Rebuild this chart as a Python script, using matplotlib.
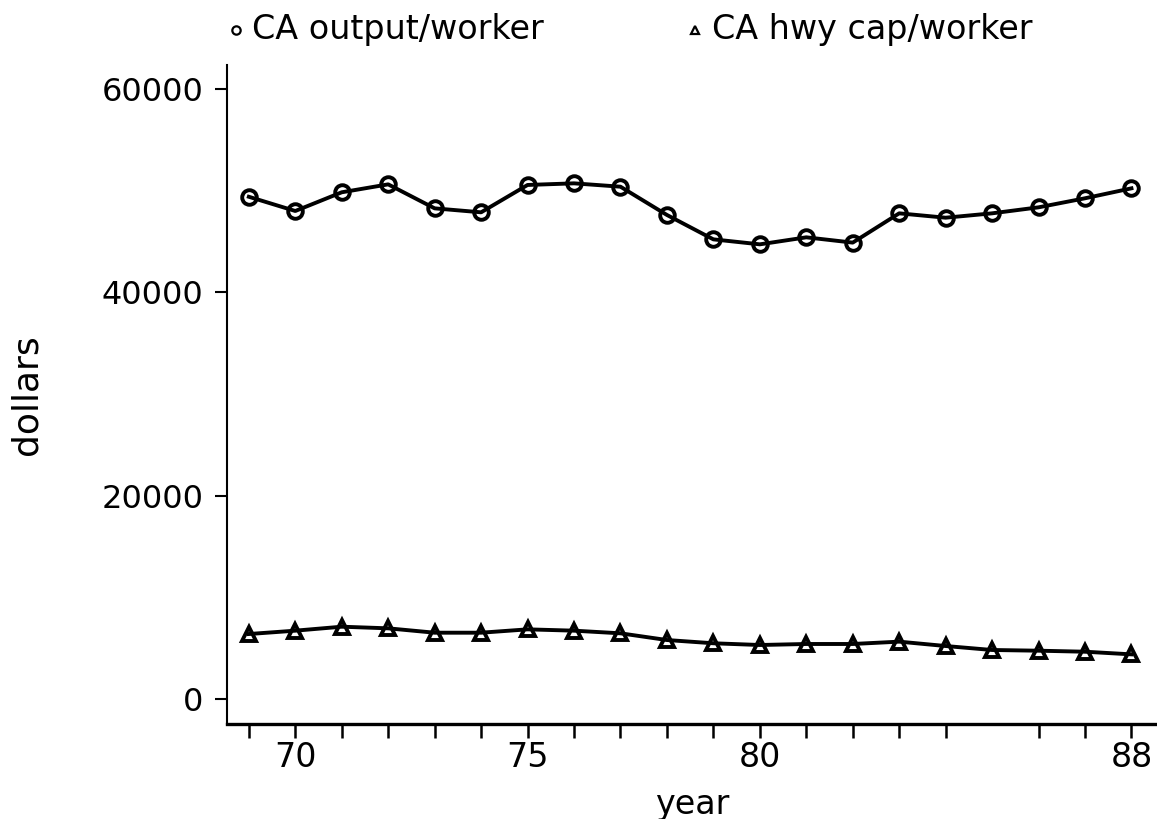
import matplotlib
matplotlib.use("Agg")
import matplotlib.pyplot as plt
from matplotlib.lines import Line2D

years = list(range(1969, 1989))
output_per_worker = [49400, 48000, 49840, 50620, 48260, 47870, 50560, 50720, 50390, 47610,
                     45210, 44720, 45410, 44890, 47770, 47340, 47770, 48360, 49250, 50230]
hwy_cap_per_worker = [6390, 6720, 7110, 6950, 6520, 6520, 6850, 6720, 6460, 5800,
                      5480, 5310, 5410, 5410, 5640, 5210, 4820, 4750, 4650, 4390]
x_ticks = [1969, 1970, 1971, 1972, 1973, 1974, 1975, 1976, 1977, 1978, 1979, 1980,
           1981, 1982, 1983, 1984, 1986, 1987, 1988]
x_tick_labels = ["", "70", "", "", "", "", "75", "", "", "", "", "80",
                 "", "", "", "", "", "", "88"]
y_ticks = [0, 20000, 40000, 60000]
series_labels = ["CA output/worker", "CA hwy cap/worker"]
series_markers = ['o', '^']

plt.rcParams['font.family'] = ['DejaVu Sans']

W, H = 1157, 819
fig = plt.figure(figsize=(W/100, H/100), dpi=100)
ax = fig.add_axes([227/W, 1 - 724/H, 1 - 227/W, (724 - 65)/H])

ax.plot(years, output_per_worker, color='black', lw=2.8, marker=series_markers[0], ms=10.5,
        mfc='none', mec='black', mew=2.8)
ax.plot(years, hwy_cap_per_worker, color='black', lw=2.8, marker=series_markers[1], ms=9.5,
        mfc='none', mec='black', mew=2.8)

ax.set_xlim(1968.53, 1988.55)
ax.set_ylim(-2460, 62360)
ax.spines['top'].set_visible(False)
ax.spines['right'].set_visible(False)
ax.spines['left'].set_linewidth(1.5)
ax.spines['bottom'].set_linewidth(2.4)

ax.set_xticks(x_ticks)
ax.set_xticklabels(x_tick_labels)
ax.set_yticks(y_ticks)
ax.set_yticklabels([str(v) for v in y_ticks])
ax.tick_params(axis='x', length=10, width=1.8, pad=2, labelsize=24)
ax.tick_params(axis='y', length=9, width=1.5, pad=8, labelsize=23)

ax.set_xlabel("year", fontsize=24, labelpad=10)
ax.set_ylabel("dollars", fontsize=26, labelpad=42)

# legend entries across the top
legend_pos = [(236, 695), (252, 712)]
for i, lab in enumerate(series_labels):
    mx = legend_pos[0][i] / W
    tx = legend_pos[1][i] / W
    y = 1 - 30/H
    fig.add_artist(Line2D([mx], [y], transform=fig.transFigure, ls='none',
                          marker=series_markers[i], ms=6, mfc='none', mec='black', mew=1.6))
    fig.text(tx, y, lab, fontsize=24, ha='left', va='center')

fig.savefig("out.png", dpi=100, facecolor='white')
